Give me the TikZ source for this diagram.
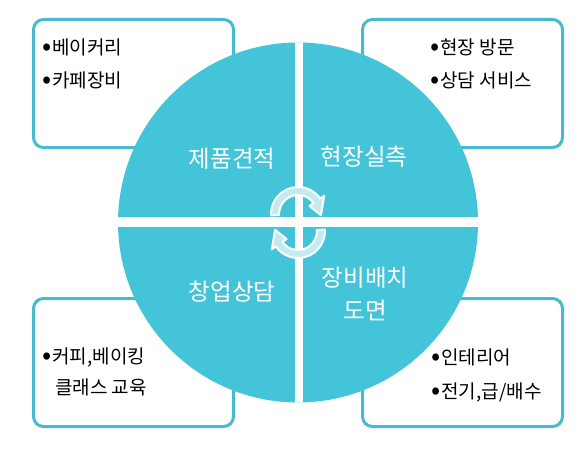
\documentclass[tikz,border=0pt]{standalone}
\usepackage{fontspec}
\setmainfont{Noto Sans CJK KR}
\definecolor{diskblue}{RGB}{68,196,216}
\definecolor{framecol}{RGB}{72,186,206}
\definecolor{arrowfill}{RGB}{196,234,241}
\newcommand\bul{\raisebox{-1.5pt}{\fontsize{27}{22}\selectfont•}\hspace{1pt}}
\begin{document}
\begin{tikzpicture}[x=1pt,y=1pt,
  infobox/.style={draw=framecol,line width=3pt,rounded corners=10pt,minimum width=200pt,minimum height=128pt,fill=white},
  item/.style={anchor=west,inner sep=0pt,font=\fontsize{19}{22}\selectfont,text=black},
  quad/.style={text=white,inner sep=0pt,align=center,font=\fontsize{23.5}{33}\selectfont},
  turn/.style={fill=arrowfill,draw=white,line width=2pt,line join=round}]
  \useasboundingbox (0,0) rectangle (580,451);
  % boxes behind the disk
  \node[infobox] (boxTL) at (133.5,367.5) {};
  \node[infobox] (boxTR) at (462.5,367.5) {};
  \node[infobox] (boxBL) at (133.5,88.5) {};
  \node[infobox] (boxBR) at (462.5,88.5) {};
  \node[item] (bake)  at (42,404) {\bul 베이커리};
  \node[item] (cafe)  at (42,371) {\bul 카페장비};
  \node[item] (visit) at (430,404) {\bul 현장 방문};
  \node[item] (serv)  at (430,371) {\bul 상담 서비스};
  \node[item] (coffee) at (42,94) {\bul 커피,베이킹};
  \node[item] (class)  at (55,64) {클래스 교육};
  \node[item] (inter) at (431,94) {\bul 인테리어};
  \node[item] (elec)  at (431,59) {\bul 전기,급/배수};
  % disk in four parts
  \fill[diskblue] (298,228.5) circle[radius=180];
  \begin{scope}
    \clip (298,228.5) circle[radius=180];
    \fill[white] (295,0) rectangle (303,451);
    \fill[white] (0,224) rectangle (580,234);
  \end{scope}
  \node[quad] (quote)   at (232,292) {제품견적};
  \node[quad] (measure) at (364,294) {현장실측};
  \node[quad] (consult) at (232,159) {창업상담};
  \node[quad] (layout)  at (365,157.5) {장비배치\\도면};
  % turning arrows
  \foreach \cy/\rot in {237/0,220/180}{
    \begin{scope}[shift={(298,\cy)},rotate=\rot]
      \draw[turn] (183:27) arc[start angle=183,end angle=35,radius=27] -- (35:32) -- (-3:23)
        -- (35:14) -- (35:19) arc[start angle=35,end angle=183,radius=19] -- cycle;
    \end{scope}
  }
\end{tikzpicture}
\end{document}
